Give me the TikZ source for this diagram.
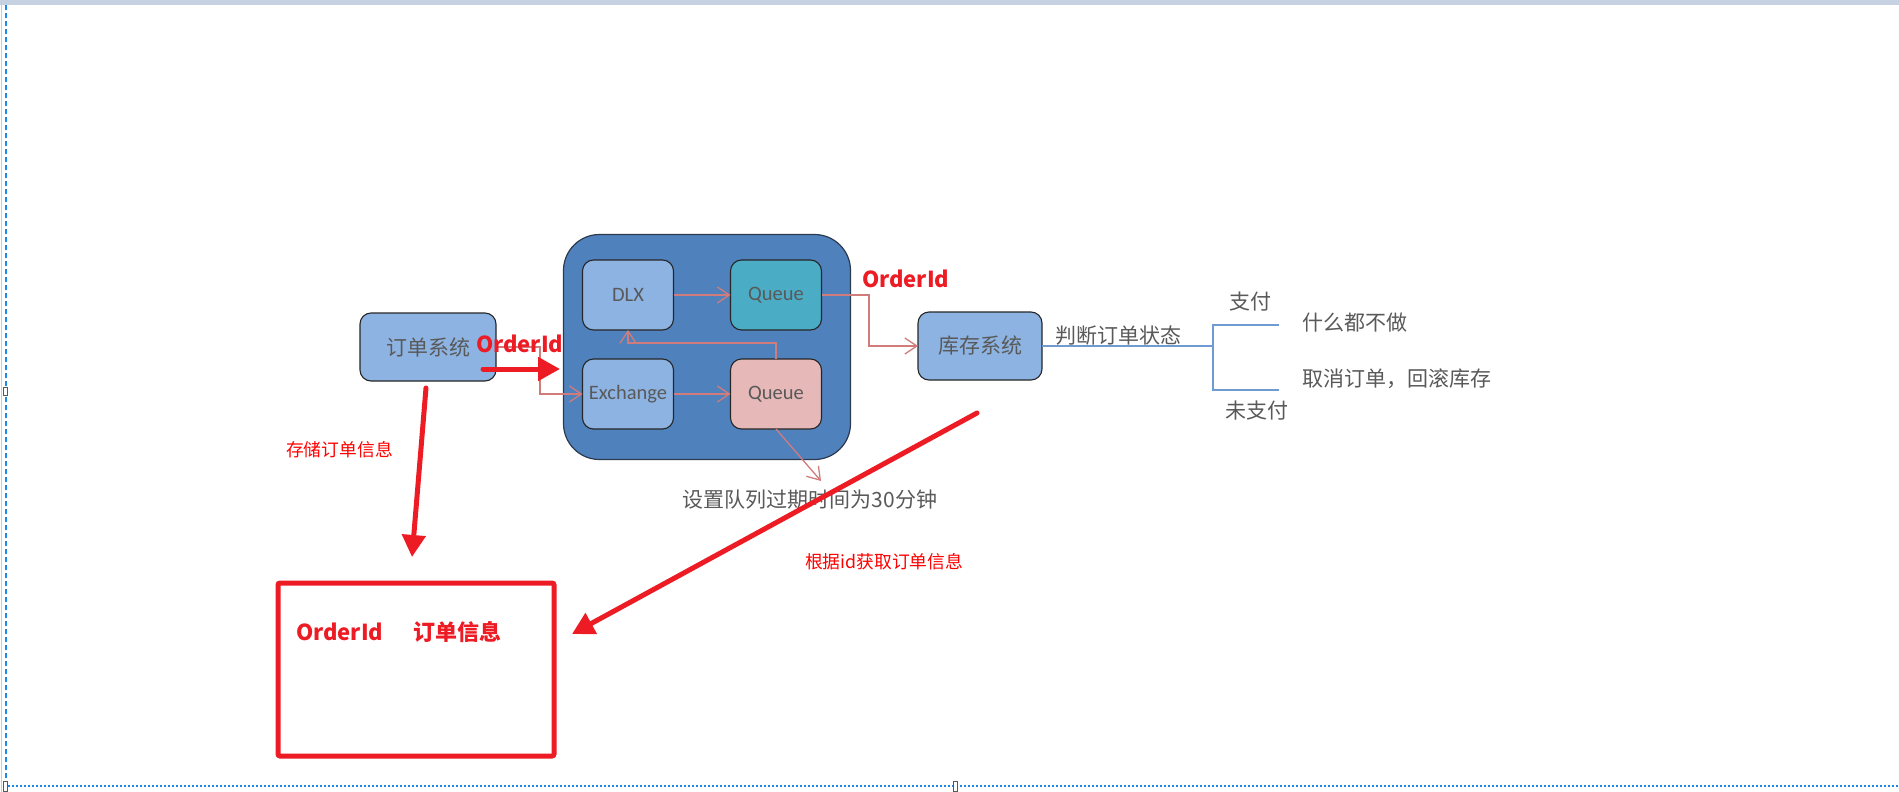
\documentclass[tikz,border=0pt]{standalone}
\usepackage{fontspec}
\setmainfont{Noto Sans CJK SC}
\newfontfamily\latinf{Carlito}
\usetikzlibrary{arrows.meta}
\definecolor{topband}{HTML}{C6D1E2}
\definecolor{edgeblue}{HTML}{1E88E5}
\definecolor{mqblue}{HTML}{4F81BD}
\definecolor{mqline}{HTML}{2B3A4E}
\definecolor{lightblue}{HTML}{8DB3E2}
\definecolor{teal}{HTML}{4BACC6}
\definecolor{pinkq}{HTML}{E6B9B8}
\definecolor{boxline}{HTML}{262626}
\definecolor{txtgray}{HTML}{595959}
\definecolor{thinred}{HTML}{D07C7C}
\definecolor{thickred}{HTML}{ED1C24}
\definecolor{purered}{HTML}{FF0000}
\definecolor{branchblue}{HTML}{6F9BD2}
\tikzset{
  every node/.style={inner sep=0pt, outer sep=0pt},
  container/.style={draw=mqline, line width=1.2bp, fill=mqblue, rounded corners=36bp},
  innerbox/.style={draw=boxline, line width=1.1bp, rounded corners=11bp, minimum width=91bp, minimum height=70bp, text=txtgray, font=\latinf\fontsize{20.5bp}{24bp}\selectfont},
  sysbox/.style={draw=boxline, line width=1.1bp, rounded corners=11bp, fill=lightblue, minimum height=68bp, text=txtgray, font=\fontsize{21bp}{25bp}\selectfont},
  redframe/.style={draw=thickred, line width=5bp, rounded corners=2bp, minimum width=276bp, minimum height=173bp},
  redbold/.style={text=thickred, font=\bfseries\fontsize{22bp}{26bp}\selectfont},
  redsmall/.style={text=purered, font=\fontsize{17.8bp}{21bp}\selectfont},
  graytext/.style={text=txtgray, font=\fontsize{21bp}{25bp}\selectfont},
  thinarrow/.style={draw=thinred, line width=1.3bp, -{Straight Barb[length=12bp,width=16bp,line width=1.3bp]}},
  thickarrow/.style={draw=thickred, line width=5bp, line cap=round, -{Triangle[length=22bp,width=23bp]}},
  branch/.style={draw=branchblue, line width=1.3bp},
}
\begin{document}
\begin{tikzpicture}[x=1bp,y=-1bp]
\useasboundingbox (0,0) rectangle (1899,792);
% window frame
\fill[topband] (0,0) rectangle (1899,5);
\draw[gray!40, line width=1.2bp] (1.5,5) -- (1.5,792);
\draw[edgeblue, line width=1.2bp, dash pattern=on 5bp off 3bp] (6,5) -- (6,786);
\draw[edgeblue, line width=1.3bp, dash pattern=on 2bp off 2bp] (8,786) -- (1899,786);
\draw[gray!70!black, fill=white, line width=0.8bp] (3,781) rectangle (7,791);
\draw[gray!70!black, fill=white, line width=0.8bp] (953,781) rectangle (957,791);
\draw[gray!70!black, fill=white, line width=0.8bp] (3,387) rectangle (7,395);

% container and inner boxes
\node[container, minimum width=287bp, minimum height=225bp] (mq) at (707,347) {};
\node[innerbox, fill=lightblue] (dlx) at (628,295) {DLX};
\node[innerbox, fill=teal] (qt) at (776,295) {Queue};
\node[innerbox, fill=lightblue] (ex) at (628,394) {Exchange};
\node[innerbox, fill=pinkq] (qb) at (776,394) {Queue};

% systems
\node[sysbox, minimum width=136bp] (ds) at (428,347) {订单系统};
\node[sysbox, minimum width=124bp] (kc) at (980,346) {库存系统};

% red frame
\node[redframe] (db) at (416,669.5) {};

% thin connectors
\coordinate (j1) at (540,0);
\coordinate (j2) at (869,0);
\coordinate (ttlend) at (821,481);
\draw[thinarrow] (ds.east) -- (ds.east -| j1) |- (ex.west);
\draw[thinarrow] (dlx) -- (qt);
\draw[thinarrow] (ex) -- (qb);
\draw[thinarrow] (qb.north) -- ++(0,-16) -| (dlx.south);
\draw[thinarrow] (qb.south) -- (ttlend);
\draw[thinarrow] (qt.east) -- (qt.east -| j2) |- (kc.west);

% branch
\coordinate (bx) at (1213,0);
\coordinate (bt) at (1279,325);
\coordinate (bb) at (1279,390);
\draw[branch] (kc.east) -- (kc.east -| bx);
\draw[branch] (bt) -- (bt -| bx) -- (bb -| bx) -- (bb);

% labels
\node[redbold, anchor=west] (oid1) at (476,344) {OrderId};
\node[redbold, anchor=west] (oid2) at (862,279) {OrderId};
\node[redbold, anchor=west] (oid3) at (296,632) {OrderId};
\node[redbold, anchor=west] (info) at (413,632) {订单信息};
\node[redsmall, anchor=west] (store) at (286,450) {存储订单信息};
\node[redsmall, anchor=west] (fetch) at (805,562) {根据id获取订单信息};
\node[graytext, anchor=east] (ttl) at (937,500) {设置队列过期时间为30分钟};
\node[graytext, anchor=west] (judge) at (1055,336) {判断订单状态};
\node[graytext] (pay) at (1250,302) {支付};
\node[graytext, anchor=west] (nothing) at (1302,323) {什么都不做};
\node[graytext, anchor=west] (cancel) at (1302,379) {取消订单，回滚库存};
\node[graytext] (unpaid) at (1257,411) {未支付};

% thick red arrows
\coordinate (a1s) at (483,369);
\coordinate (a1e) at (560,369);
\coordinate (a2s) at (426,388);
\coordinate (a2e) at (412,557);
\coordinate (a3s) at (977,413);
\coordinate (a3e) at (572,634);
\draw[thickarrow] (a1s) -- (a1e);
\draw[thickarrow] (a2s) -- (a2e);
\draw[thickarrow] (a3s) -- (a3e);
\end{tikzpicture}
\end{document}
